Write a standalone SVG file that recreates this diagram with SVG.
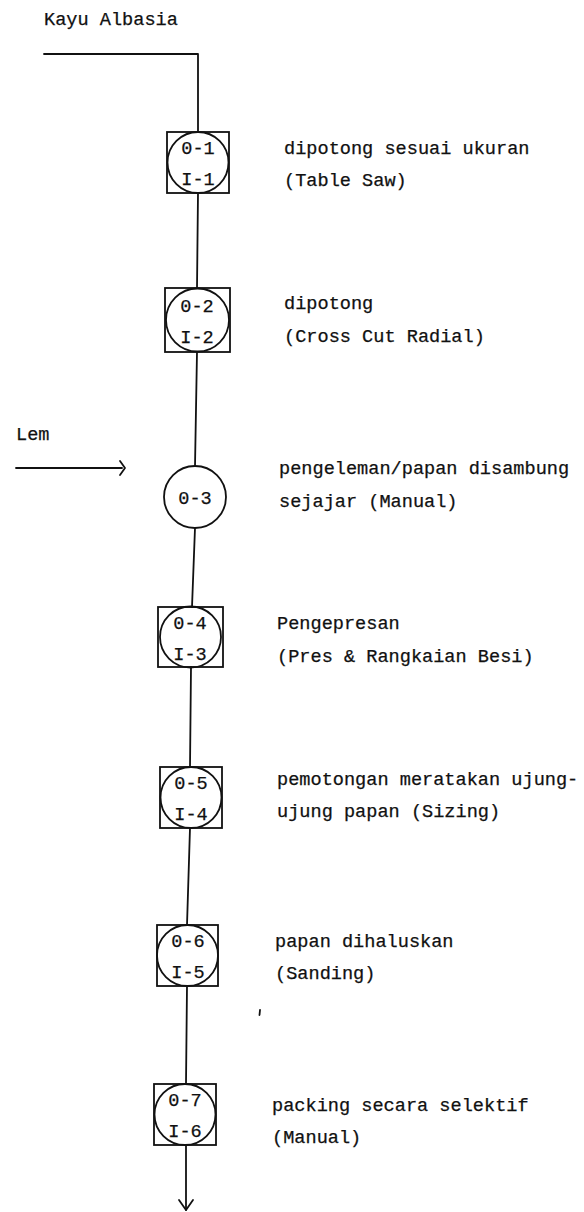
<svg xmlns="http://www.w3.org/2000/svg" width="584" height="1212" viewBox="0 0 584 1212">
  <style>
    .ln { fill: none; stroke: #111; stroke-width: 1.8; stroke-linecap: round; stroke-linejoin: round; }
    .box { fill: none; stroke: #111; stroke-width: 1.8; }
    .t { font-family: "Liberation Mono", "DejaVu Sans Mono", monospace; font-size: 18.6px; fill: #111; stroke: #111; stroke-width: 0.25; }
    .c { text-anchor: middle; }
  </style>

  <!-- raw material input -->
  <text class="t" x="44" y="25">Kayu Albasia</text>
  <text class="t" x="16" y="440">Lem</text>

  <!-- connectors -->
  <g id="connectors">
    <polyline class="ln" points="44,54 198,54 198,132"/>
    <line class="ln" x1="198" y1="193" x2="197" y2="288"/>
    <line class="ln" x1="197" y1="352" x2="195" y2="466"/>
    <line class="ln" x1="195" y1="528" x2="192" y2="607"/>
    <line class="ln" x1="191" y1="667" x2="190" y2="767"/>
    <line class="ln" x1="190" y1="828" x2="187" y2="925"/>
    <line class="ln" x1="187" y1="986" x2="186" y2="1084"/>
    <line class="ln" x1="186" y1="1145" x2="186" y2="1210"/>
    <polyline class="ln" points="179,1200 186,1210 193,1200"/>
    <line class="ln" x1="16" y1="468" x2="122" y2="468"/>
    <polyline class="ln" points="120,461 125,468 120,475"/>
    <line class="ln" x1="260" y1="1010" x2="259.5" y2="1015"/>
  </g>

  <!-- operation/inspection 1 -->
  <g id="n1">
    <rect class="box" x="167" y="132" width="62" height="61"/>
    <circle class="box" cx="198" cy="162.5" r="30.5"/>
    <text class="t c" x="198" y="154">0-1</text>
    <text class="t c" x="198" y="185">I-1</text>
    <text class="t" x="284" y="154">dipotong sesuai ukuran</text>
    <text class="t" x="284" y="186">(Table Saw)</text>
  </g>

  <!-- operation/inspection 2 -->
  <g id="n2">
    <rect class="box" x="165" y="288" width="65" height="64"/>
    <circle class="box" cx="197.5" cy="320" r="31.5"/>
    <text class="t c" x="197" y="312">0-2</text>
    <text class="t c" x="197" y="343">I-2</text>
    <text class="t" x="284" y="309">dipotong</text>
    <text class="t" x="284" y="342">(Cross Cut Radial)</text>
  </g>

  <!-- operation 3 -->
  <g id="n3">
    <circle class="box" cx="195" cy="497" r="31"/>
    <text class="t c" x="195" y="504">0-3</text>
    <text class="t" x="279" y="474">pengeleman/papan disambung</text>
    <text class="t" x="279" y="507">sejajar (Manual)</text>
  </g>

  <!-- operation/inspection 4 -->
  <g id="n4">
    <rect class="box" x="158" y="607" width="65" height="60"/>
    <circle class="box" cx="190.5" cy="637" r="30.5"/>
    <text class="t c" x="190" y="629">0-4</text>
    <text class="t c" x="190" y="660">I-3</text>
    <text class="t" x="277" y="629">Pengepresan</text>
    <text class="t" x="277" y="662">(Pres &amp; Rangkaian Besi)</text>
  </g>

  <!-- operation/inspection 5 -->
  <g id="n5">
    <rect class="box" x="160" y="767" width="62" height="61"/>
    <circle class="box" cx="191" cy="797.5" r="30.5"/>
    <text class="t c" x="191" y="789">0-5</text>
    <text class="t c" x="191" y="820">I-4</text>
    <text class="t" x="277" y="785">pemotongan meratakan ujung-</text>
    <text class="t" x="277" y="817">ujung papan (Sizing)</text>
  </g>

  <!-- operation/inspection 6 -->
  <g id="n6">
    <rect class="box" x="157" y="925" width="61" height="61"/>
    <circle class="box" cx="187.5" cy="955.5" r="30.5"/>
    <text class="t c" x="188" y="947">0-6</text>
    <text class="t c" x="188" y="978">I-5</text>
    <text class="t" x="275" y="947">papan dihaluskan</text>
    <text class="t" x="275" y="979">(Sanding)</text>
  </g>

  <!-- operation/inspection 7 -->
  <g id="n7">
    <rect class="box" x="154" y="1084" width="62" height="61"/>
    <circle class="box" cx="185" cy="1114.5" r="30.5"/>
    <text class="t c" x="185" y="1106">0-7</text>
    <text class="t c" x="185" y="1137">I-6</text>
    <text class="t" x="272" y="1111">packing secara selektif</text>
    <text class="t" x="272" y="1143">(Manual)</text>
  </g>
</svg>
